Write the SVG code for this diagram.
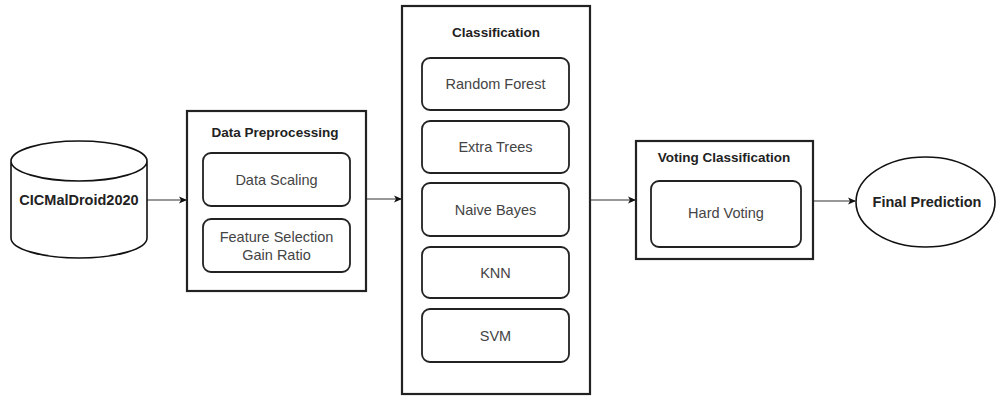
<svg xmlns="http://www.w3.org/2000/svg" width="996" height="398" viewBox="0 0 996 398">
<defs>
<marker id="arr" markerWidth="8" markerHeight="8" refX="7" refY="4" orient="auto" markerUnits="userSpaceOnUse">
<path d="M0,0.5 L8,4 L0,7.5 L2,4 Z" fill="#111"/>
</marker>
<style>
.outer{fill:#fff;stroke:#222;stroke-width:2.2}
.inner{fill:#fff;stroke:#222;stroke-width:1.8}
.shape{fill:#fff;stroke:#111;stroke-width:1.6}
.t{font-family:"Liberation Sans",Arial,sans-serif;font-size:14.5px;fill:#444;text-anchor:middle;dominant-baseline:central}
.b{font-family:"Liberation Sans",Arial,sans-serif;font-weight:bold;font-size:13.5px;fill:#222;text-anchor:middle;dominant-baseline:central}
.conn{stroke:#333;stroke-width:1.1;fill:none;marker-end:url(#arr)}
</style>
</defs>
<rect width="996" height="398" fill="#fff"/>
<g id="connectors">
<line class="conn" x1="147" y1="200" x2="186" y2="200"/>
<line class="conn" x1="367" y1="199" x2="401" y2="199"/>
<line class="conn" x1="591" y1="200" x2="635" y2="200"/>
<line class="conn" x1="814" y1="201" x2="855" y2="201"/>
</g>
<g id="cicmaldroid">
<path class="shape" d="M11,161 L11,238 A68,20 0 0 0 147,238 L147,161 A68,20 0 0 0 11,161 Z M11,161 A68,20 0 0 0 147,161"/>
<text class="b" x="79" y="200" style="font-size:14.5px">CICMalDroid2020</text>
</g>
<g id="preprocessing">
<rect class="outer" x="187" y="111" width="179" height="180"/>
<text class="b" x="275" y="132">Data Preprocessing</text>
<g id="data-scaling">
<rect class="inner" x="203" y="153" width="147" height="53" rx="8"/>
<text class="t" x="276.5" y="179.5">Data Scaling</text>
</g>
<g id="feature-selection">
<rect class="inner" x="203" y="219" width="147" height="53" rx="8"/>
<text class="t" x="276.5" y="237">Feature Selection</text>
<text class="t" x="276.5" y="255">Gain Ratio</text>
</g>
</g>
<g id="classification">
<rect class="outer" x="402" y="6" width="188" height="388"/>
<text class="b" x="496" y="32">Classification</text>
<g id="rf"><rect class="inner" x="422" y="58" width="147" height="52" rx="8"/><text class="t" x="495.5" y="84">Random Forest</text></g>
<g id="et"><rect class="inner" x="422" y="121" width="147" height="52" rx="8"/><text class="t" x="495.5" y="147">Extra Trees</text></g>
<g id="nb"><rect class="inner" x="422" y="183" width="147" height="53" rx="8"/><text class="t" x="495.5" y="209.5">Naive Bayes</text></g>
<g id="knn"><rect class="inner" x="422" y="247" width="147" height="51" rx="8"/><text class="t" x="495.5" y="272.5">KNN</text></g>
<g id="svm"><rect class="inner" x="422" y="309" width="147" height="53" rx="8"/><text class="t" x="495.5" y="335.5">SVM</text></g>
</g>
<g id="voting">
<rect class="outer" x="636" y="141" width="177" height="118"/>
<text class="b" x="724" y="157">Voting Classification</text>
<g id="hard-voting">
<rect class="inner" x="651" y="181" width="150" height="66" rx="8"/>
<text class="t" x="726" y="213">Hard Voting</text>
</g>
</g>
<g id="final">
<ellipse class="shape" cx="925.5" cy="202" rx="69.5" ry="45"/>
<text class="b" x="927" y="202" style="font-size:14.5px">Final Prediction</text>
</g>
</svg>
